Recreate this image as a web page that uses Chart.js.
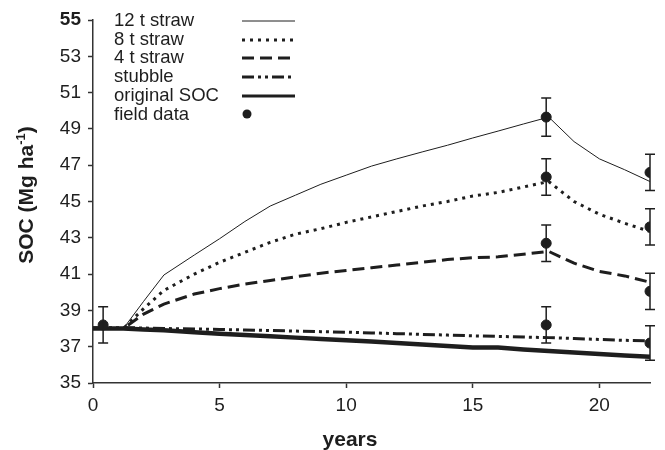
<!DOCTYPE html>
<html>
<head>
<meta charset="utf-8">
<script src="https://cdn.jsdelivr.net/npm/chart.js@4"></script>
<style>
  html, body { margin: 0; padding: 0; background: #fff; }
  #wrap { width: 665px; height: 450px; }
</style>
</head>
<body>
<div id="wrap"><canvas id="chart" width="665" height="450"></canvas></div>
<script>
// model output (years since start)
const modelYears = [0, 1.2, 2, 2.8, 4, 5, 6, 7, 8, 9, 10, 11, 12, 13, 14, 15, 16, 17, 18, 19, 20, 21, 22];
const straw12 = [38.0, 38.0, 39.5, 40.95, 42.05, 42.95, 43.9, 44.75, 45.35, 45.95, 46.45, 46.95, 47.35, 47.73, 48.1, 48.5, 48.88, 49.27, 49.65, 48.3, 47.35, 46.75, 46.1];
const straw8 = [38.0, 38.0, 39.1, 40.1, 41.0, 41.65, 42.2, 42.75, 43.2, 43.5, 43.85, 44.15, 44.45, 44.75, 45.0, 45.3, 45.5, 45.8, 46.1, 45.0, 44.3, 43.8, 43.35];
const straw4 = [38.0, 38.0, 38.8, 39.35, 39.9, 40.2, 40.45, 40.65, 40.85, 41.05, 41.2, 41.35, 41.5, 41.65, 41.8, 41.9, 41.95, 42.1, 42.25, 41.6, 41.15, 40.9, 40.55];
const stubble = [38.05, 38.05, 38.03, 38.0, 37.98, 37.95, 37.92, 37.89, 37.86, 37.83, 37.8, 37.76, 37.72, 37.68, 37.64, 37.6, 37.57, 37.53, 37.5, 37.45, 37.4, 37.35, 37.32];
const originalSoc = [38.0, 38.0, 37.95, 37.9, 37.8, 37.72, 37.65, 37.58, 37.5, 37.43, 37.36, 37.28, 37.2, 37.12, 37.04, 36.95, 36.95, 36.85, 36.76, 36.68, 36.6, 36.52, 36.45];

// measured values with error bars
const fieldYears = [0.4, 17.9, 17.9, 17.9, 17.9, 22, 22, 22, 22];
const fieldSoc = [38.2, 49.65, 46.35, 42.7, 38.2, 46.6, 43.6, 40.05, 37.2];
const fieldErr = [1.0, 1.05, 1.0, 1.0, 1.0, 1.0, 1.0, 1.0, 0.95];

const xTicks = [0, 5, 10, 15, 20];
const yTicks = [35, 37, 39, 41, 43, 45, 47, 49, 51, 53, 55];

const FONT = "'Liberation Sans', Arial, sans-serif";
const INK = "#1e1e1e";

function toPoints(xs, ys) {
  return xs.map((x, i) => ({ x: x, y: ys[i] }));
}

function lineSet(label, values, width, dash) {
  return {
    type: "line",
    label: label,
    data: toPoints(modelYears, values),
    borderColor: INK,
    borderWidth: width,
    borderDash: dash,
    pointRadius: 0,
    tension: 0,
    fill: false,
    order: 1,
  };
}

const datasets = [
  lineSet("12 t straw", straw12, 1, []),
  lineSet("8 t straw", straw8, 3, [3, 5]),
  lineSet("4 t straw", straw4, 3, [12, 6]),
  lineSet("stubble", stubble, 3, [12, 4, 3, 4, 3, 4]),
  lineSet("original SOC", originalSoc, 4.5, []),
  {
    type: "scatter",
    label: "field data",
    data: toPoints(fieldYears, fieldSoc),
    backgroundColor: INK,
    borderColor: INK,
    pointRadius: 5,
    order: 0,
  },
];

// error bars, legend and axis titles
const extras = {
  id: "extras",
  afterDatasetsDraw(chart) {
    const { ctx, scales } = chart;
    const xs = scales.x, ys = scales.y;
    ctx.save();
    ctx.strokeStyle = INK;
    ctx.lineWidth = 1.5;
    for (let i = 0; i < fieldYears.length; i++) {
      const px = xs.getPixelForValue(fieldYears[i]);
      const top = ys.getPixelForValue(fieldSoc[i] + fieldErr[i]);
      const bot = ys.getPixelForValue(fieldSoc[i] - fieldErr[i]);
      ctx.beginPath();
      ctx.moveTo(px, top); ctx.lineTo(px, bot);
      ctx.moveTo(px - 5, top); ctx.lineTo(px + 5, top);
      ctx.moveTo(px - 5, bot); ctx.lineTo(px + 5, bot);
      ctx.stroke();
    }
    ctx.restore();
  },
  afterDraw(chart) {
    const { ctx } = chart;
    ctx.save();
    ctx.fillStyle = INK;

    // legend
    ctx.font = "18.5px " + FONT;
    ctx.textBaseline = "middle";
    const rowY = [21, 40, 58, 77, 96, 115];
    chart.data.datasets.forEach((ds, i) => {
      const y = rowY[i];
      ctx.fillText(ds.label, 114, y);
      if (ds.type === "scatter") {
        ctx.beginPath();
        ctx.arc(247, y - 1, 4.5, 0, Math.PI * 2);
        ctx.fill();
      } else {
        ctx.strokeStyle = INK;
        ctx.lineWidth = Math.min(ds.borderWidth, 3);
        ctx.setLineDash(ds.borderDash);
        ctx.beginPath();
        ctx.moveTo(242, y);
        ctx.lineTo(295, y);
        ctx.stroke();
        ctx.setLineDash([]);
      }
    });

    // x title
    ctx.font = "bold 21px " + FONT;
    ctx.textAlign = "center";
    ctx.textBaseline = "alphabetic";
    ctx.fillText("years", 350, 446);

    // y title with superscript
    ctx.translate(33, 195);
    ctx.rotate(-Math.PI / 2);
    const main = "SOC (Mg ha";
    const sup = "-1";
    const close = ")";
    ctx.font = "bold 21px " + FONT;
    const w1 = ctx.measureText(main).width;
    const w3 = ctx.measureText(close).width;
    ctx.font = "bold 13px " + FONT;
    const w2 = ctx.measureText(sup).width;
    let x = -(w1 + w2 + w3) / 2;
    ctx.textAlign = "left";
    ctx.font = "bold 21px " + FONT;
    ctx.fillText(main, x, 0);
    x += w1;
    ctx.font = "bold 13px " + FONT;
    ctx.fillText(sup, x, -8);
    x += w2;
    ctx.font = "bold 21px " + FONT;
    ctx.fillText(close, x, 0);
    ctx.restore();
  },
};

new Chart(document.getElementById("chart").getContext("2d"), {
  data: { datasets: datasets },
  options: {
    responsive: false,
    animation: false,
    layout: { padding: { top: 20, right: 15, left: 0, bottom: 0 } },
    plugins: {
      legend: { display: false },
      tooltip: { enabled: false },
    },
    scales: {
      x: {
        type: "linear",
        min: 0,
        max: 22,
        afterBuildTicks: (axis) => { axis.ticks = xTicks.map((v) => ({ value: v })); },
        afterFit: (axis) => { axis.height = 67; },
        border: { display: true, color: "#333", width: 1.5 },
        grid: { display: true, drawOnChartArea: false, drawTicks: true, tickLength: 5, tickColor: "#333", tickWidth: 1.5 },
        ticks: { color: INK, padding: 6, font: { family: FONT, size: 19 }, maxRotation: 0 },
      },
      y: {
        type: "linear",
        min: 35,
        max: 55,
        afterBuildTicks: (axis) => { axis.ticks = yTicks.map((v) => ({ value: v })); },
        afterFit: (axis) => { axis.width = 93; },
        border: { display: true, color: "#333", width: 1.5 },
        grid: { display: true, drawOnChartArea: false, drawTicks: true, tickLength: 5, tickColor: "#333", tickWidth: 1.5 },
        ticks: {
          color: INK,
          padding: 7,
          font: (c) => ({ family: FONT, size: 19, weight: c.tick && c.tick.value === 55 ? "bold" : "normal" }),
        },
      },
    },
  },
  plugins: [extras],
});
</script>
</body>
</html>
